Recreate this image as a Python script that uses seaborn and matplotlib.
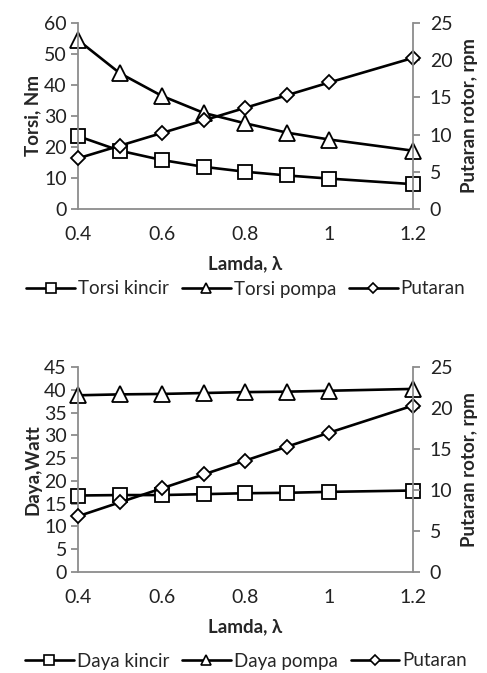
import matplotlib

matplotlib.use("Agg")
import matplotlib.pyplot as plt
import pandas as pd
import seaborn as sns
from matplotlib.lines import Line2D

# ---------------------------------------------------------------------------
# Data
# ---------------------------------------------------------------------------
lamda = [0.4, 0.5, 0.6, 0.7, 0.8, 0.9, 1.0, 1.2]

torsi_kincir = [23.5, 18.8, 15.8, 13.6, 12.0, 10.8, 9.8, 8.0]
torsi_pompa = [54.5, 43.8, 36.5, 31.0, 27.6, 24.6, 22.4, 18.8]

daya_kincir = [16.8, 16.9, 16.9, 17.1, 17.3, 17.4, 17.6, 17.9]
daya_pompa = [38.8, 39.0, 39.1, 39.3, 39.5, 39.6, 39.8, 40.2]

putaran = [6.8, 8.5, 10.2, 11.9, 13.6, 15.3, 17.0, 20.3]

x_ticks = [0.4, 0.6, 0.8, 1.0, 1.2]
x_ticklabels = ["0.4", "0.6", "0.8", "1", "1.2"]

sns.set_style("white")
plt.rcParams["font.family"] = ["Lato", "DejaVu Sans"]

GRAY = "#8c8c8c"
FS = 14
LFS = 13.5
LW = 1.9

fig = plt.figure(figsize=(4.87, 6.73), dpi=100)


def style_axis(ax):
    ax.spines["top"].set_visible(False)
    for side in ["left", "right", "bottom"]:
        ax.spines[side].set_color(GRAY)
        ax.spines[side].set_linewidth(1.3)
    ax.tick_params(direction="out", length=5, width=1.3, color=GRAY,
                   labelsize=FS, labelcolor="#222222")


def draw_panel(rect, left_series, ylim, yticks, ylabel):
    df = pd.DataFrame({"lamda": lamda, "a": left_series[0],
                       "b": left_series[1], "putaran": putaran})
    ax = fig.add_axes(rect)
    ax2 = ax.twinx()
    mk = dict(color="black", linewidth=LW, markerfacecolor="white",
              markeredgecolor="black", markeredgewidth=1.3, clip_on=False)
    sns.lineplot(data=df, x="lamda", y="a", ax=ax, marker="s",
                 markersize=10, **mk)
    sns.lineplot(data=df, x="lamda", y="b", ax=ax, marker="^",
                 markersize=11, **mk)
    sns.lineplot(data=df, x="lamda", y="putaran", ax=ax2, marker="D",
                 markersize=7.5, **mk)

    ax.set_xlim(0.4, 1.2)
    ax.set_ylim(*ylim)
    ax.set_yticks(yticks)
    ax.set_xticks(x_ticks)
    ax.set_xticklabels(x_ticklabels)
    ax2.set_ylim(0, 25)
    ax2.set_yticks([0, 5, 10, 15, 20, 25])

    style_axis(ax)
    style_axis(ax2)
    ax.spines["right"].set_visible(False)
    ax2.spines["left"].set_visible(False)
    ax2.spines["bottom"].set_visible(False)
    ax.tick_params(axis="x", pad=7)
    ax.tick_params(axis="y", pad=3)
    ax2.tick_params(axis="y", pad=7)

    ax.set_xlabel("Lamda, λ", fontsize=LFS, fontweight="bold", labelpad=9)
    ax.set_ylabel(ylabel, fontsize=LFS, fontweight="bold", labelpad=2)
    ax2.set_ylabel("Putaran rotor, rpm", fontsize=LFS, fontweight="bold",
                   labelpad=6)

    lg = dict(color="black", linewidth=LW, markerfacecolor="white",
              markeredgecolor="black", markeredgewidth=1.2)
    handles = [
        Line2D([], [], marker="s", markersize=7, **lg),
        Line2D([], [], marker="^", markersize=7, **lg),
        Line2D([], [], marker="D", markersize=5, **lg),
    ]
    return ax, handles


legend_kw = dict(loc="center", ncol=3, frameon=False, fontsize=13.5,
                 handlelength=2.6, handletextpad=0.15, columnspacing=0.7)

ax_top, h_top = draw_panel([0.160, 0.6895, 0.688, 0.2764],
                           [torsi_kincir, torsi_pompa],
                           (0, 60), range(0, 61, 10), "Torsi, Nm")
fig.legend(h_top, ["Torsi kincir", "Torsi pompa", "Putaran"],
           bbox_to_anchor=(0.505, 1 - 289 / 673), **legend_kw)

ax_bot, h_bot = draw_panel([0.160, 0.150, 0.688, 0.3046],
                           [daya_kincir, daya_pompa],
                           (0, 45), range(0, 46, 5), "Daya,Watt")
fig.legend(h_bot, ["Daya kincir", "Daya pompa", "Putaran"],
           bbox_to_anchor=(0.505, 1 - 661 / 673), **legend_kw)

fig.savefig("out.png", dpi=100)
